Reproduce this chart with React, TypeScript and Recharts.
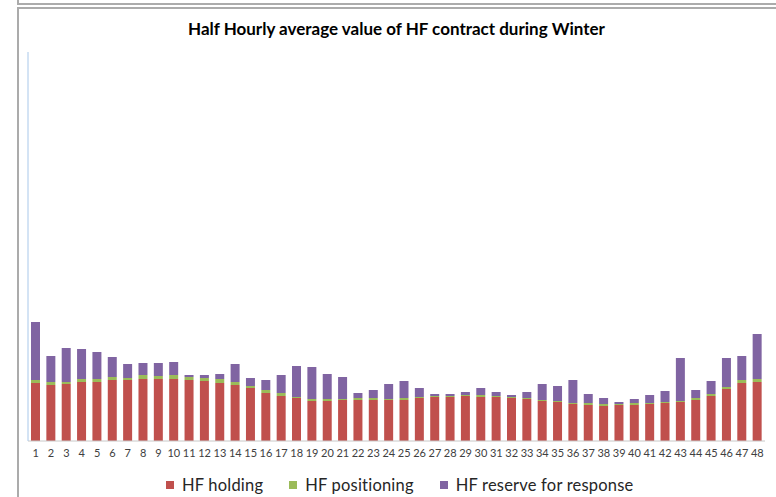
import { BarChart, Bar, XAxis, YAxis } from 'recharts';

// half-hour periods 1..48
const periods = Array.from({ length: 48 }, (_, i) => String(i + 1));

// values (arbitrary units, axis unlabelled)
const holding = [
  58, 56, 57, 59, 59, 61, 61, 62, 62, 62, 61, 60, 58, 56, 53, 48,
  45, 43, 40, 40, 41, 41, 41, 41, 41, 43, 44, 44, 45, 44, 44, 43,
  42, 40, 39, 37, 36, 35, 36, 36, 37, 38, 39, 41, 45, 52, 58, 59,
];
const positioning = [
  3, 3, 2, 3, 3, 3, 2, 4, 3, 4, 3, 3, 4, 3, 2, 3,
  3, 1, 2, 2, 1, 2, 2, 1, 2, 1, 1, 1, 1, 2, 1, 1,
  1, 1, 1, 1, 2, 2, 1, 2, 1, 1, 1, 2, 2, 2, 3, 3,
];
const reserve = [
  58, 26, 34, 30, 27, 20, 14, 12, 13, 13, 2, 3, 5, 18, 8, 10,
  18, 31, 32, 25, 22, 5, 8, 15, 17, 9, 2, 2, 3, 7, 4, 2,
  6, 16, 15, 23, 9, 6, 2, 4, 8, 11, 43, 8, 13, 29, 24, 45,
];

const SERIES = [
  { key: 'holding', name: 'HF holding', color: '#C0504D' },
  { key: 'positioning', name: 'HF positioning', color: '#9BBB59' },
  { key: 'reserve', name: 'HF reserve for response', color: '#8064A2' },
];

const data = periods.map((p, i) => ({
  period: p,
  holding: holding[i],
  positioning: positioning[i],
  reserve: reserve[i],
}));

const FONT = 'Lato, "Open Sans", sans-serif';
const FRAME = '#ababab';

export default function App() {
  return (
    <div
      style={{
        position: 'fixed',
        left: 0,
        top: 0,
        width: 776,
        height: 497,
        background: '#fff',
        fontFamily: FONT,
        overflow: 'hidden',
      }}
    >
      {/* window frame lines */}
      <div style={{ position: 'absolute', left: 17, top: 0, width: 0, height: 4, borderLeft: `2px solid ${FRAME}` }} />
      <div style={{ position: 'absolute', left: 17, top: 3, right: 0, height: 0, borderTop: `2px solid ${FRAME}` }} />
      <div style={{ position: 'absolute', left: 17, top: 7, right: 0, height: 0, borderTop: `2px solid ${FRAME}` }} />
      <div style={{ position: 'absolute', left: 17, top: 7, bottom: 0, width: 0, borderLeft: `2px solid ${FRAME}` }} />

      {/* title */}
      <div
        style={{
          position: 'absolute',
          left: 17,
          right: 0,
          top: 18,
          textAlign: 'center',
          fontSize: 17,
          fontWeight: 700,
          color: '#000',
        }}
      >
        Half Hourly average value of HF contract during Winter
      </div>

      <div style={{ position: 'absolute', left: 0, top: 0 }}>
        <BarChart
          width={776}
          height={497}
          data={data}
          margin={{ top: 52, right: 11, left: 27, bottom: 36 }}
          barSize={9}
        >
          <XAxis
            dataKey="period"
            interval={0}
            tickLine={false}
            axisLine={{ stroke: '#c8c8c8' }}
            height={20}
            tick={{ fontSize: 11, fill: '#404040', fontFamily: FONT }}
          />
          <YAxis
            width={1}
            domain={[0, 389]}
            tick={false}
            tickLine={false}
            axisLine={{ stroke: '#a9c8ea' }}
          />
          {SERIES.map((s) => (
            <Bar
              key={s.key}
              dataKey={s.key}
              name={s.name}
              stackId="a"
              fill={s.color}
              isAnimationActive={false}
            />
          ))}
        </BarChart>
      </div>

      {/* legend */}
      <div
        style={{
          position: 'absolute',
          left: 166,
          top: 475,
          display: 'flex',
          alignItems: 'center',
          fontSize: 16.5,
          letterSpacing: 0.2,
          color: '#262626',
        }}
      >
        {SERIES.map((s) => (
          <div key={s.key} style={{ display: 'flex', alignItems: 'center', marginRight: 26 }}>
            <div style={{ width: 8, height: 8, background: s.color, marginRight: 8 }} />
            <span>{s.name}</span>
          </div>
        ))}
      </div>
    </div>
  );
}
